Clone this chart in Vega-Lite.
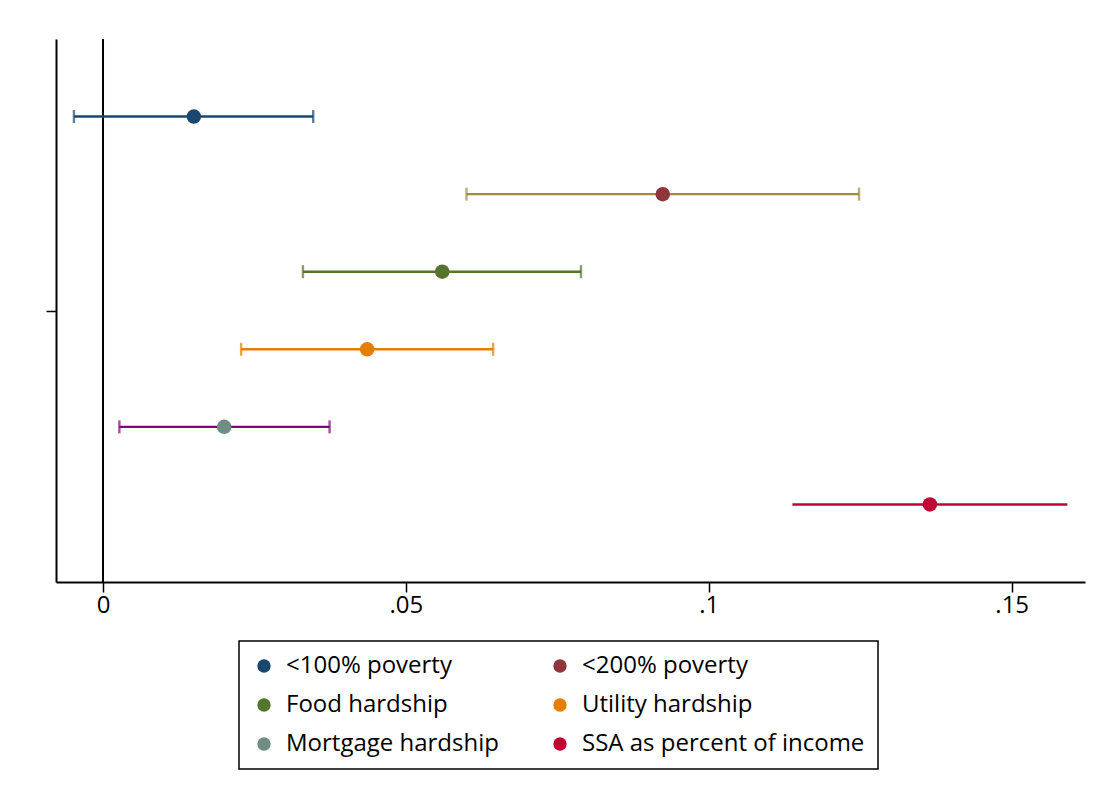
{
  "$schema": "https://vega.github.io/schema/vega-lite/v6.json",
  "autosize": "none",
  "padding": {"top": 39, "left": 56, "right": 16, "bottom": 223},
  "width": 1029,
  "height": 543,
  "background": "white",
  "config": {
    "view": {"stroke": null},
    "font": "Open Sans",
    "axis": {"domainColor": "black", "domainWidth": 2, "tickColor": "black", "tickWidth": 1.5, "grid": false, "labelColor": "black"}
  },
  "data": {
    "values": [
      {"series": "<100% poverty", "pos": 1, "est": 0.0150, "lo": -0.0048, "hi": 0.0347},
      {"series": "<200% poverty", "pos": 2, "est": 0.0924, "lo": 0.0600, "hi": 0.1248},
      {"series": "Food hardship", "pos": 3, "est": 0.0560, "lo": 0.0330, "hi": 0.0789},
      {"series": "Utility hardship", "pos": 4, "est": 0.0436, "lo": 0.0228, "hi": 0.0644},
      {"series": "Mortgage hardship", "pos": 5, "est": 0.0200, "lo": 0.0027, "hi": 0.0374},
      {"series": "SSA as percent of income", "pos": 6, "est": 0.1365, "lo": 0.1138, "hi": 0.1592}
    ]
  },
  "resolve": {"scale": {"color": "independent"}},
  "layer": [
    {
      "data": {"values": [{"ref": 0}]},
      "mark": {"type": "rule", "color": "black", "strokeWidth": 2},
      "encoding": {
        "x": {"field": "ref", "type": "quantitative", "scale": {"domain": [-0.00776, 0.1621], "nice": false, "zero": false}}
      }
    },
    {
      "mark": {"type": "rule", "strokeWidth": 2.4},
      "encoding": {
        "x": {"field": "lo", "type": "quantitative",
          "scale": {"domain": [-0.00776, 0.1621], "nice": false, "zero": false},
          "axis": {"values": [0, 0.05, 0.1, 0.15], "title": null, "tickSize": 10, "labelFontSize": 24, "labelPadding": 1,
            "labelExpr": "datum.value == 0 ? '0' : replace(format(datum.value, '.2~f'), '0.', '.')"}},
        "x2": {"field": "hi"},
        "y": {"field": "pos", "type": "quantitative",
          "scale": {"domain": [0, 7], "reverse": true, "nice": false, "zero": false},
          "axis": {"values": [3.5], "labels": false, "title": null, "tickSize": 10}},
        "color": {"field": "series", "type": "nominal", "legend": null,
          "scale": {"domain": ["<100% poverty", "<200% poverty", "Food hardship", "Utility hardship", "Mortgage hardship", "SSA as percent of income"],
            "range": ["#1a476f", "#a08b40", "#55752f", "#e37e00", "#800080", "#c10534"]}}
      }
    },
    {
      "transform": [{"filter": "datum.series != 'SSA as percent of income'"}, {"fold": ["lo", "hi"], "as": ["end", "xv"]}],
      "mark": {"type": "tick", "orient": "vertical", "size": 13, "thickness": 2.4},
      "encoding": {
        "x": {"field": "xv", "type": "quantitative"},
        "y": {"field": "pos", "type": "quantitative"},
        "color": {"field": "series", "type": "nominal", "legend": null,
          "scale": {"domain": ["<100% poverty", "<200% poverty", "Food hardship", "Utility hardship", "Mortgage hardship", "SSA as percent of income"],
            "range": ["#1a476f", "#a08b40", "#55752f", "#e37e00", "#800080", "#c10534"]}}
      }
    },
    {
      "mark": {"type": "circle", "size": 210, "opacity": 1},
      "encoding": {
        "x": {"field": "est", "type": "quantitative"},
        "y": {"field": "pos", "type": "quantitative"},
        "color": {"field": "series", "type": "nominal",
          "scale": {"domain": ["<100% poverty", "Food hardship", "Mortgage hardship", "<200% poverty", "Utility hardship", "SSA as percent of income"],
            "range": ["#1a476f", "#55752f", "#6e8e84", "#90353b", "#e37e00", "#c10534"]},
          "legend": {"orient": "none", "legendX": 183, "legendY": 602, "title": null, "columns": 2,
            "symbolType": "circle", "symbolSize": 180, "symbolStrokeWidth": 0, "symbolOpacity": 1,
            "labelFontSize": 24, "labelFont": "Open Sans", "labelColor": "black", "labelOffset": 10, "labelLimit": 0,
            "rowPadding": 15, "columnPadding": 49, "padding": 13,
            "strokeColor": "black", "fillColor": "white",
            "encode": {"legend": {"update": {"strokeWidth": {"value": 1.5}}}}}}
      }
    }
  ]
}
